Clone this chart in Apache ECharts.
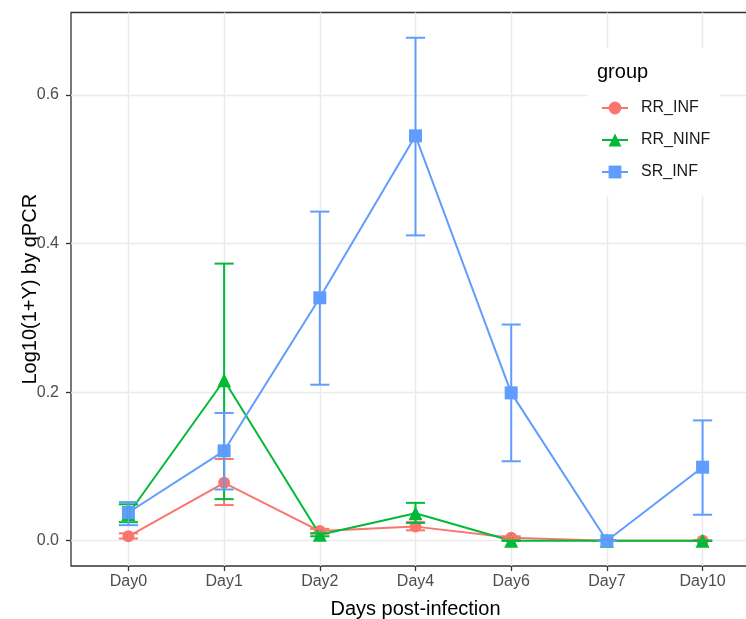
<!DOCTYPE html>
<html>
<head>
<meta charset="utf-8">
<script src="https://cdn.jsdelivr.net/npm/echarts@6/dist/echarts.min.js"></script>
<style>
  html, body { margin: 0; padding: 0; background: #fff; overflow: hidden; width: 746px; height: 619px; }
  /* the plot panel runs a little past the right edge of the frame */
  #frame { width: 746px; height: 619px; overflow: hidden; position: relative; }
  #chart { width: 760px; height: 619px; position: absolute; left: 0; top: 0; }
</style>
</head>
<body>
<div id="frame"><div id="chart"></div></div>
<script>
// Sampling days (x categories) and groups
const days = ['Day0', 'Day1', 'Day2', 'Day4', 'Day6', 'Day7', 'Day10'];
const groups = ['RR_INF', 'RR_NINF', 'SR_INF'];
const groupColors = ['#F8766D', '#00BA38', '#619CFF'];
const groupSymbols = ['circle', 'triangle', 'rect'];
const groupSymbolSizes = [12, 14, 13];

// Mean log10(1+Y) per day, with lower / upper error limits
const rrInfMean  = [0.006, 0.078, 0.013, 0.019, 0.004, 0, 0];
const rrInfLow   = [0.003, 0.048, 0.010, 0.014, 0.002, 0, 0];
const rrInfHigh  = [0.010, 0.110, 0.016, 0.025, 0.006, 0, 0];

const rrNinfMean = [0.036, 0.216, 0.008, 0.037, 0, 0, 0];
const rrNinfLow  = [0.025, 0.056, 0.006, 0.024, 0, 0, 0];
const rrNinfHigh = [0.049, 0.373, 0.010, 0.051, 0, 0, 0];

const srInfMean  = [0.038, 0.121, 0.327, 0.545, 0.199, 0, 0.099];
const srInfLow   = [0.021, 0.069, 0.210, 0.411, 0.107, 0, 0.035];
const srInfHigh  = [0.052, 0.172, 0.443, 0.677, 0.291, 0, 0.162];

const yTicks = [0, 0.2, 0.4, 0.6];
const yMin = -0.034, yMax = 0.711;

const means = [rrInfMean, rrNinfMean, srInfMean];
const lows = [rrInfLow, rrNinfLow, srInfLow];
const highs = [rrInfHigh, rrNinfHigh, srInfHigh];

const FONT = '"Liberation Sans", Arial, sans-serif';
const LINE_W = 2;
const CAP_HALF = 0.1; // half width of error-bar caps, in category units

const lineSeries = groups.map((g, k) => ({
  name: g,
  type: 'line',
  data: means[k].map((v, i) => [i, v]),
  symbol: groupSymbols[k],
  symbolSize: groupSymbolSizes[k],
  color: groupColors[k],
  lineStyle: { width: LINE_W, color: groupColors[k] },
  itemStyle: { color: groupColors[k] },
  z: 2 + k * 0.1
}));

const errorSeries = groups.map((g, k) => ({
  name: g + ' error',
  type: 'custom',
  data: lows[k].map((lo, i) => [i, lo, highs[k][i]]),
  encode: { x: 0, y: [1, 2] },
  z: 3 + k * 0.1,
  renderItem: function (params, api) {
    const x = api.value(0);
    const lo = api.coord([x, api.value(1)]);
    const hi = api.coord([x, api.value(2)]);
    const half = api.size([CAP_HALF, 0])[0];
    const style = { stroke: groupColors[k], lineWidth: LINE_W, fill: null };
    return {
      type: 'group',
      children: [
        { type: 'line', shape: { x1: lo[0], y1: lo[1], x2: hi[0], y2: hi[1] }, style: style },
        { type: 'line', shape: { x1: lo[0] - half, y1: lo[1], x2: lo[0] + half, y2: lo[1] }, style: style },
        { type: 'line', shape: { x1: hi[0] - half, y1: hi[1], x2: hi[0] + half, y2: hi[1] }, style: style }
      ]
    };
  }
}));

const chart = echarts.init(document.getElementById('chart'), null, { renderer: 'canvas' });
chart.setOption({
  animation: false,
  backgroundColor: '#ffffff',
  textStyle: { fontFamily: FONT },
  title: {
    text: 'group',
    left: 597,
    top: 62,
    padding: 0,
    z: 10,
    textStyle: { fontFamily: FONT, fontSize: 20, fontWeight: 'normal', color: '#000000' }
  },
  legend: {
    data: groups,
    orient: 'vertical',
    left: 588,
    top: 48,
    padding: [52, 10, 16, 13],
    backgroundColor: '#ffffff',
    itemWidth: 26,
    itemHeight: 16,
    itemGap: 16,
    textStyle: { fontFamily: FONT, fontSize: 16, color: '#1A1A1A', padding: [0, 0, 0, 8] }
  },
  grid: {
    left: 71,
    top: 12.5,
    right: 0,
    bottom: 53,
    containLabel: false,
    outerBoundsMode: 'none',
    show: true,
    borderColor: '#333333',
    borderWidth: 1.3,
    backgroundColor: 'transparent'
  },
  xAxis: {
    type: 'value',
    min: -0.6,
    max: days.length - 0.4,
    splitNumber: 7,
    name: 'Days post-infection',
    nameLocation: 'middle',
    nameGap: 33,
    nameMoveOverlap: false,
    nameTextStyle: { fontFamily: FONT, fontSize: 20, color: '#000000' },
    axisLine: { show: false, onZero: false },
    axisTick: { show: true, length: 5, lineStyle: { color: '#333333', width: 1.3 }, customValues: days.map((d, i) => i) },
    axisLabel: {
      show: true,
      margin: 8,
      fontFamily: FONT,
      fontSize: 16,
      color: '#4D4D4D',
      customValues: days.map((d, i) => i),
      formatter: function (v) {
        const i = Math.round(v);
        return Math.abs(v - i) < 1e-6 && days[i] ? days[i] : '';
      }
    },
    splitLine: { show: true, lineStyle: { color: '#EBEBEB', width: 1.4 } }
  },
  yAxis: {
    type: 'value',
    min: yMin,
    max: yMax,
    splitNumber: 7,
    name: 'Log10(1+Y) by qPCR',
    nameLocation: 'middle',
    nameGap: 31,
    nameMoveOverlap: false,
    nameTextStyle: { fontFamily: FONT, fontSize: 20, color: '#000000' },
    axisLine: { show: false, onZero: false },
    axisTick: { show: true, length: 5, lineStyle: { color: '#333333', width: 1.3 }, customValues: yTicks },
    axisLabel: {
      show: true,
      margin: 12,
      fontFamily: FONT,
      fontSize: 16,
      color: '#4D4D4D',
      customValues: yTicks,
      formatter: function (v) { return v.toFixed(1); }
    },
    splitLine: { show: true, lineStyle: { color: '#EBEBEB', width: 1.4 } }
  },
  series: lineSeries.concat(errorSeries)
});
</script>
</body>
</html>
